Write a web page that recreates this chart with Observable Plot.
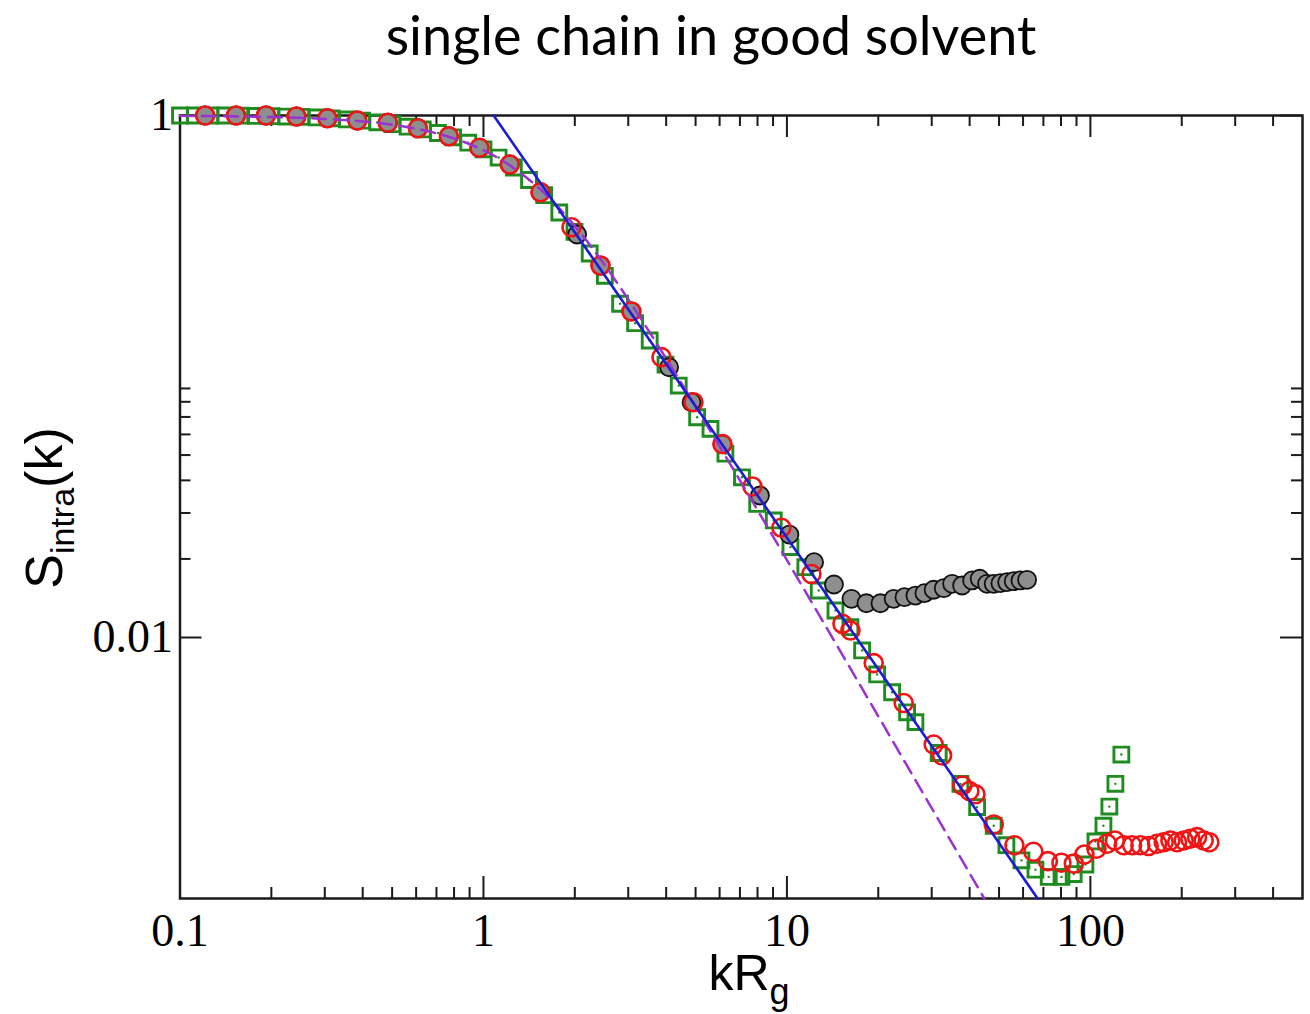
<!DOCTYPE html>
<html><head><meta charset="utf-8">
<script src="https://cdn.jsdelivr.net/npm/d3@7"></script>
<script src="https://cdn.jsdelivr.net/npm/@observablehq/plot@0.6"></script>
<style>
html,body{margin:0;padding:0;background:#fff;}
#wrap{position:relative;width:1310px;height:1014px;overflow:hidden;}
#title{position:absolute;top:8px;left:711px;transform:translateX(-50%);font-family:Lato,"Open Sans",sans-serif;font-size:54px;line-height:54px;white-space:nowrap;color:#000;}
#chart{position:absolute;top:0;left:0;}
</style></head><body>
<div id="wrap"><div id="chart"></div><div id="title">single chain in good solvent</div></div>
<script>
// ---- data ----
const grayK = [0.121,0.153,0.192,0.242,0.306,0.384,0.484,0.608,0.769,0.970,1.221,1.541,2.035,2.43,3.07,4.09,4.85,6.13,8.15,10.19,12.29,14.29,16.32,18.28,20.33,22.48,24.39,26.51,28.38,30.45,32.86,35.03,37.78,40.76,43.18,45.66,48.02,50.52,53.17,55.88,58.81,61.86];
const grayS = [1,1,1,0.991,0.976,0.957,0.938,0.894,0.833,0.752,0.649,0.508,0.350,0.266,0.1775,0.1085,0.0797,0.0550,0.0350,0.0248,0.01943,0.01596,0.01407,0.01353,0.01353,0.01407,0.01427,0.01448,0.01479,0.01524,0.01545,0.01606,0.01582,0.01654,0.01679,0.01606,0.01606,0.01615,0.01629,0.01643,0.01654,0.01663];

const redK = [0.121,0.153,0.192,0.242,0.306,0.384,0.484,0.608,0.769,0.970,1.221,1.541,1.95,2.43,3.074,3.859,4.919,6.13,7.696,9.59,12.04,15.24,16.19,19.32,24.25,30.45,32.46,37.87,39.93,41.8,48.02,56.19,64.89,72.44,80.27,88.18,95.56,104.7,113.5,120.4,128.7,137.2,146.1,155.6,165.9,174.4,183.5,193.1,203,213.5,224.7,236.2,246.6];
const redS = [1,1,1,0.991,0.976,0.957,0.938,0.894,0.833,0.752,0.649,0.508,0.373,0.266,0.1775,0.1186,0.0797,0.0551,0.0379,0.02635,0.0175,0.01128,0.01063,0.00798,0.00561,0.00389,0.00353,0.00271,0.00258,0.00251,0.00192,0.0016,0.00151,0.00139,0.00137,0.00136,0.001474,0.00155,0.00162,0.001668,0.0016,0.0016,0.0016,0.00159,0.00162,0.001643,0.001668,0.001643,0.001668,0.001693,0.001718,0.001668,0.001643];

const greenK = [0.1,0.112,0.126,0.141,0.158,0.178,0.2,0.224,0.251,0.282,0.316,0.355,0.398,0.447,0.501,0.562,0.631,0.708,0.794,0.891,1.0,1.122,1.259,1.413,1.585,1.778,1.995,2.239,2.512,2.82,3.16,3.53,3.98,4.40,5.06,5.60,6.27,7.11,7.98,9.05,10.27,11.5,12.73,14.45,16.19,17.69,19.83,22.21,24.89,26.51,31.64,37.3,42.34,48.02,52.87,59.27,65.9,72.9,80.3,88.1,96.3,103.9,110.4,115.5,120.9,126.5];
const greenS = [1,1,1,1,0.998,0.996,0.994,0.991,0.988,0.983,0.975,0.966,0.955,0.942,0.926,0.906,0.884,0.857,0.825,0.787,0.742,0.690,0.632,0.566,0.495,0.425,0.358,0.296,0.243,0.19,0.16,0.1374,0.111,0.0923,0.0698,0.063,0.0506,0.0411,0.0325,0.0281,0.0222,0.0186,0.01514,0.01269,0.01095,0.00892,0.00722,0.00617,0.00517,0.00474,0.00361,0.00275,0.00224,0.0019,0.0016,0.0014,0.00129,0.00121,0.00121,0.00124,0.00135,0.001654,0.0019,0.00225,0.00275,0.00356];

const dashK = [0.1,0.15,0.2,0.3,0.4,0.5,0.6,0.7,0.8,1,1.2,1.5,2,2.5,3,3.5,4,5,7,10,15,20,30,44.7];
const dashS = [0.9967,0.9925,0.9868,0.9706,0.9487,0.9216,0.8901,0.8549,0.8169,0.7358,0.6529,0.5355,0.3773,0.2689,0.1975,0.1499,0.1172,0.0768,0.0400,0.0198,0.00885,0.00499,0.00222,0.0010];

const lineK = [1.08, 67];
const lineS = [1, 0.001];

const xMajor = [0.1, 1, 10, 100];
const xMinor = [0.2,0.3,0.4,0.5,0.6,0.7,0.8,0.9,2,3,4,5,6,7,8,9,20,30,40,50,60,70,80,90,200,300,400];
const xLabels = ["0.1","1","10","100"];
const yMajor = [1, 0.01];
const yMinor = [0.02,0.03,0.04,0.05,0.06,0.07,0.08,0.09];
const yLabels = ["1","0.01"];

// ---- build ----
const zip = (K, S) => K.map((k, i) => ({k, s: S[i]}));
const gray = zip(grayK, grayS), red = zip(redK, redS), green = zip(greenK, greenS);
const dash = zip(dashK, dashS), powerLine = zip(lineK, lineS);

const W = 1310, H = 1014, mT = 115, mB = 116, mL = 179.5, mR = 8;
const fH = H - mT - mB, fW = W - mL - mR;
const AX = "#1a1a1a";
const GREEN = "#1f8c1f", RED = "#f01414", BLUE = "#1c1cd6", PURPLE = "#9a32d2";

const chart = Plot.plot({
  width: W, height: H,
  marginTop: mT, marginBottom: mB, marginLeft: mL, marginRight: mR,
  x: {type: "log", domain: [0.1, 500]},
  y: {type: "log", domain: [0.001, 1]},
  style: {background: "white", overflow: "visible"},
  marks: [
    // ticks (inward, mirrored)
    Plot.ruleX(xMajor, {insetTop: fH - 22, stroke: AX, strokeWidth: 2}),
    Plot.ruleX(xMajor, {insetBottom: fH - 22, stroke: AX, strokeWidth: 2}),
    Plot.ruleX(xMinor, {insetTop: fH - 11, stroke: AX, strokeWidth: 2}),
    Plot.ruleX(xMinor, {insetBottom: fH - 11, stroke: AX, strokeWidth: 2}),
    Plot.ruleY(yMajor, {insetRight: fW - 22, stroke: AX, strokeWidth: 2}),
    Plot.ruleY(yMajor, {insetLeft: fW - 22, stroke: AX, strokeWidth: 2}),
    Plot.ruleY(yMinor, {insetRight: fW - 11, stroke: AX, strokeWidth: 2}),
    Plot.ruleY(yMinor, {insetLeft: fW - 11, stroke: AX, strokeWidth: 2}),
    Plot.frame({stroke: AX, strokeWidth: 2.5}),
    // data
    Plot.dot(green, {x: "k", y: "s", symbol: "square", r: 8.4, stroke: GREEN, strokeWidth: 2.9, fill: "none"}),
    Plot.dot(green, {x: "k", y: "s", r: 1.2, fill: GREEN, stroke: "none"}),
    Plot.dot(gray, {x: "k", y: "s", r: 9, fill: "#8e8e8e", stroke: "#111", strokeWidth: 1.8}),
    Plot.dot(red, {x: "k", y: "s", r: 9, fill: "none", stroke: RED, strokeWidth: 2.6}),
    Plot.line(dash, {x: "k", y: "s", stroke: PURPLE, strokeWidth: 2.5, strokeDasharray: "14,8", curve: "monotone-x"}),
    Plot.line(powerLine, {x: "k", y: "s", stroke: BLUE, strokeWidth: 2.6}),
    // tick labels
    Plot.axisX({ticks: xMajor, anchor: "bottom", tickSize: 0, tickPadding: 15, label: null,
      tickFormat: d => xLabels[xMajor.indexOf(d)], fontSize: 46, fontFamily: "Liberation Serif", fill: "#000"}),
    Plot.axisY({ticks: yMajor, anchor: "left", tickSize: 0, tickPadding: 7, label: null,
      tickFormat: d => yLabels[yMajor.indexOf(d)], fontSize: 46, fontFamily: "Liberation Serif", fill: "#000"})
  ]
});
document.getElementById("chart").appendChild(chart);

// axis titles with subscripts
const svg = d3.select(chart);
const xl = svg.append("text").attr("x", 749).attr("y", 990).attr("text-anchor", "middle")
  .attr("font-family", "Liberation Sans, Arial, sans-serif").attr("font-size", 50).attr("fill", "#000");
xl.append("tspan").text("kR");
xl.append("tspan").attr("font-size", 36).attr("dy", 14).text("g");

const yl = svg.append("text").attr("transform", "translate(62,508) rotate(-90)").attr("text-anchor", "middle")
  .attr("font-family", "Liberation Sans, Arial, sans-serif").attr("font-size", 52).attr("fill", "#000");
yl.append("tspan").text("S");
yl.append("tspan").attr("font-size", 34).attr("dy", 12).text("intra");
yl.append("tspan").attr("dy", -12).text("(k)");
</script>
</body></html>
